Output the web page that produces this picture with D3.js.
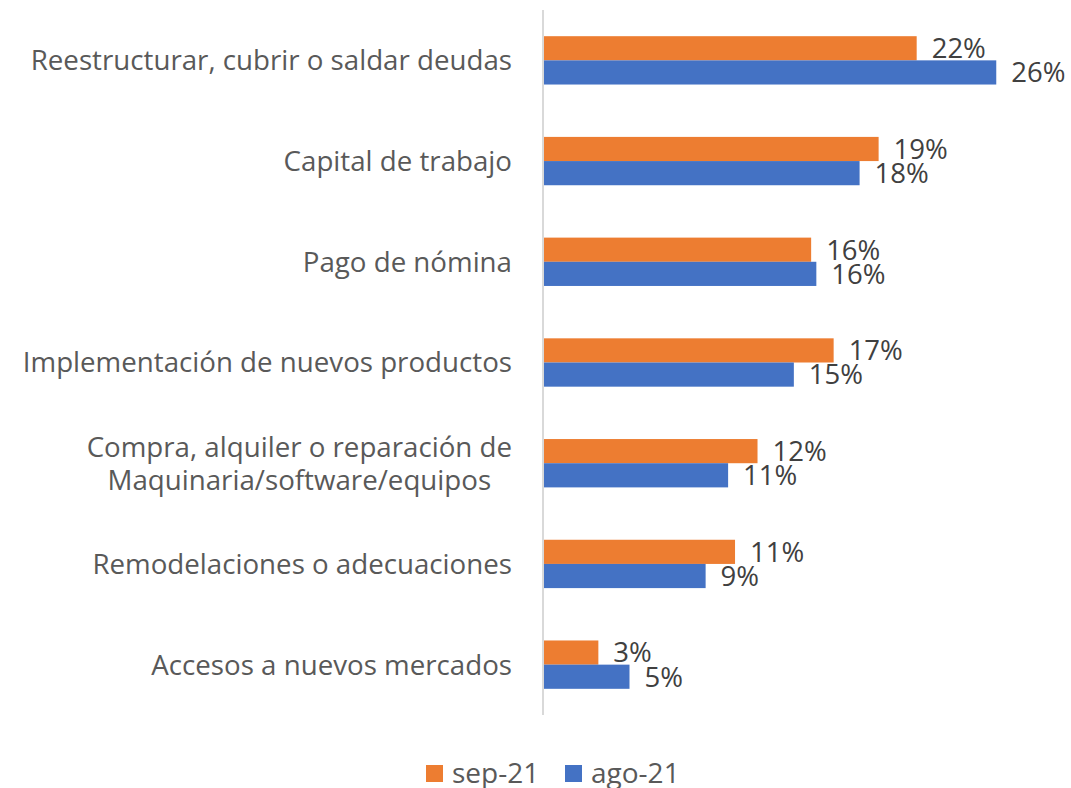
<!DOCTYPE html>
<html>
<head>
<meta charset="utf-8">
<script src="https://cdn.jsdelivr.net/npm/d3@7"></script>
<style>
  body { margin: 0; background: #fff; }
  svg { font-family: "Open Sans", sans-serif; }
</style>
</head>
<body>
<svg id="chart"></svg>
<script>
// categorias (de arriba hacia abajo)
const categories = [
  "Reestructurar, cubrir o saldar deudas",
  "Capital de trabajo",
  "Pago de nómina",
  "Implementación de nuevos productos",
  "Compra, alquiler o reparación de\nMaquinaria/software/equipos",
  "Remodelaciones o adecuaciones",
  "Accesos a nuevos mercados"
];
const seriesNames = ["sep-21", "ago-21"];
const sep21 = [21.6, 19.4, 15.5, 16.8, 12.4, 11.1, 3.2];
const ago21 = [26.2, 18.3, 15.8, 14.5, 10.7, 9.4, 5.0];
const colors = ["#ED7D31", "#4472C4"];

const width = 1071, height = 788;
const margin = { top: 10, right: 10, bottom: 73, left: 543 };

const svg = d3.select("#chart").attr("width", width).attr("height", height);
const chart = svg.append("g").attr("transform", `translate(${margin.left}, ${margin.top})`);

const inner_height = height - margin.top - margin.bottom;

const rows = categories.map((c, i) => ({ cat: c, values: [sep21[i], ago21[i]] }));

const yscale = d3.scaleBand().domain(categories).range([0, inner_height]).paddingInner(0.52).paddingOuter(0.26);
const yinner = d3.scaleBand().domain(seriesNames).range([0, yscale.bandwidth()]);
const xscale = d3.scaleLinear().domain([0, 30]).range([0, 519]);

const groups = chart.selectAll(".grp")
  .data(rows)
  .join("g")
  .attr("class", "grp")
  .attr("transform", d => `translate(0, ${yscale(d.cat)})`);

groups.selectAll("rect")
  .data(d => d.values.map((v, j) => ({ name: seriesNames[j], v: v, j: j })))
  .join("rect")
  .attr("x", 0)
  .attr("y", d => yinner(d.name))
  .attr("width", d => xscale(d.v))
  .attr("height", yinner.bandwidth())
  .attr("fill", d => colors[d.j]);

groups.selectAll(".val")
  .data(d => d.values.map((v, j) => ({ name: seriesNames[j], v: v })))
  .join("text")
  .attr("class", "val")
  .attr("x", d => xscale(d.v) + 15)
  .attr("y", d => yinner(d.name) + yinner.bandwidth() / 2)
  .attr("dy", "0.36em")
  .style("font-size", "27.5px")
  .style("fill", "#404040")
  .text(d => Math.round(d.v) + "%");

// eje vertical
const yaxis = d3.axisLeft(yscale).tickSize(0).tickSizeOuter(0).tickFormat("");
const yaxis_group = chart.append("g").call(yaxis);
yaxis_group.select(".domain").attr("stroke", "#d9d9d9").attr("stroke-width", 2)
  .attr("d", `M0,0V${inner_height}`);

// etiquetas de categorias, centradas por bloque y alineadas a la derecha
const labelRight = -31;
rows.forEach(d => {
  const lines = d.cat.split("\n");
  const cy = yscale(d.cat) + yscale.bandwidth() / 2;
  const g = chart.append("g");
  const texts = lines.map((l, k) => g.append("text")
    .attr("y", cy + (k - (lines.length - 1) / 2) * 33)
    .attr("dy", "0.36em")
    .attr("text-anchor", "middle")
    .style("font-size", "27.7px")
    .style("fill", "#595959")
    .text(l));
  const maxW = d3.max(texts, t => t.node().getComputedTextLength());
  texts.forEach(t => t.attr("x", labelRight - maxW / 2));
});

// leyenda
const legend = svg.append("g").attr("transform", `translate(0, ${height - 15})`);
const legendX = [426, 565];
seriesNames.forEach((n, i) => {
  legend.append("rect").attr("x", legendX[i]).attr("y", -8).attr("width", 17).attr("height", 17).attr("fill", colors[i]);
  legend.append("text").attr("x", legendX[i] + 26).attr("y", 0).attr("dy", "0.36em")
    .style("font-size", "28px").style("fill", "#595959").text(n);
});
</script>
</body>
</html>
